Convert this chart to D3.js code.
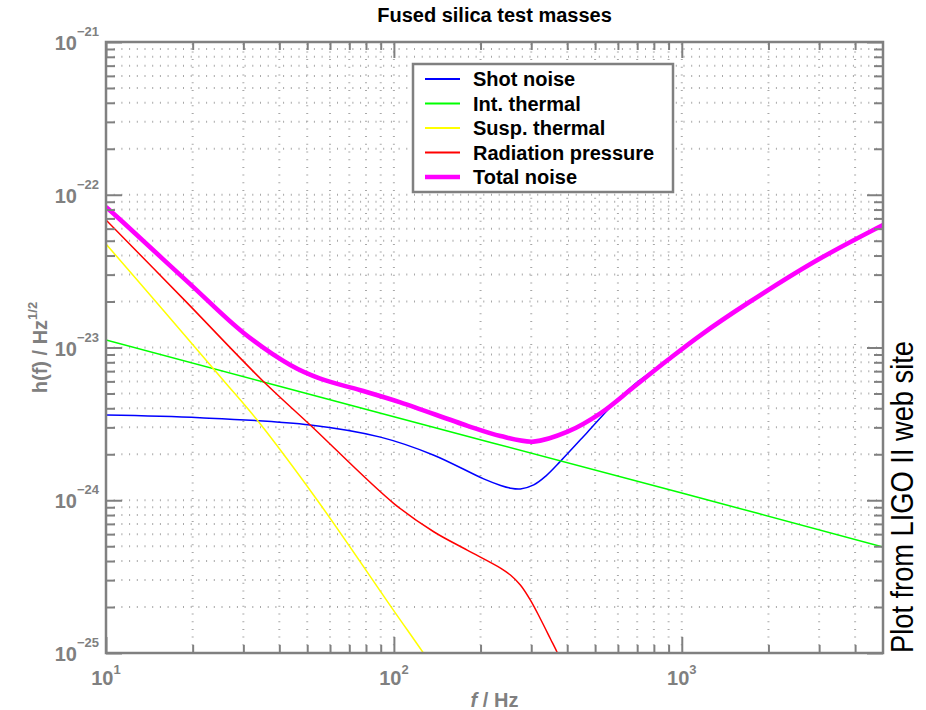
<!DOCTYPE html>
<html>
<head>
<meta charset="utf-8">
<script src="https://cdn.jsdelivr.net/npm/d3@7"></script>
<style>
  body { margin: 0; background: #fff; }
  svg text { font-family: "Liberation Sans", Arial, sans-serif; }
</style>
</head>
<body>
<div id="chart"></div>
<script>
// noise curves: frequency in Hz, strain in 1/sqrt(Hz)
const shotFreq = [10, 21.2, 51.2, 89.8, 137, 205, 235, 254, 275, 306, 337, 380, 471, 566, 681, 894, 1164, 1697, 2878, 5000];
const shotNoise = [3.61e-24, 3.47e-24, 3.11e-24, 2.59e-24, 1.98e-24, 1.38e-24, 1.25e-24, 1.20e-24, 1.185e-24, 1.26e-24, 1.44e-24, 1.81e-24, 2.80e-24, 4.08e-24, 5.68e-24, 8.2e-24, 1.2e-23, 1.95e-23, 3.62e-23, 6.33e-23];

const intFreq = [10, 100, 1000, 5000];
const intThermal = [1.12e-23, 3.52e-24, 1.115e-24, 4.94e-25];

const suspFreq = [10, 16.0, 25.5, 33.5, 54.2, 99.6, 126.6, 135];
const suspThermal = [4.76e-23, 1.71e-23, 6.13e-24, 3.35e-24, 1.0e-24, 1.91e-25, 1.0e-25, 8.3e-26];

const radFreq = [10, 18.7, 34.8, 51.2, 99.8, 137.5, 179.7, 234.6, 254, 275, 298, 323, 350, 370, 390];
const radPressure = [6.84e-23, 2.05e-23, 6.13e-24, 3.11e-24, 9.55e-25, 6.22e-25, 4.72e-25, 3.60e-25, 3.24e-25, 2.79e-25, 2.22e-25, 1.67e-25, 1.235e-25, 1.0e-25, 8.0e-26];

const totalFreq = [10, 11.46, 19.6, 30, 43.65, 55.5, 76.5, 105.3, 180.2, 234.6, 305.6, 401.3, 522.9, 680.8, 894, 1164, 1697, 2878, 5000];
const totalNoise = [8.31e-23, 6.6e-23, 2.6e-23, 1.25e-23, 7.68e-24, 6.25e-24, 5.25e-24, 4.37e-24, 3.07e-24, 2.63e-24, 2.42e-24, 2.81e-24, 3.72e-24, 5.51e-24, 8.28e-24, 1.207e-23, 1.955e-23, 3.63e-23, 6.34e-23];

const seriesNames = ["Shot noise", "Int. thermal", "Susp. thermal", "Radiation pressure", "Total noise"];
const seriesColors = ["#0000ff", "#00ff00", "#ffff00", "#ff0000", "#ff00ff"];

const xMajor = [10, 100, 1000];
const xExpLabels = ["1", "2", "3"];
const yMajor = [1e-21, 1e-22, 1e-23, 1e-24, 1e-25];
const yExpLabels = ["\u221221", "\u221222", "\u221223", "\u221224", "\u221225"];

const width = 926, height = 710;
const margin = {top: 42, right: 43, bottom: 57, left: 106};
const axisColor = "#808080";

const svg = d3.select("#chart").append("svg")
	.attr("width", width)
	.attr("height", height);

const x = d3.scaleLog().domain([10, 5000]).range([margin.left, width - margin.right]);
const y = d3.scaleLog().domain([1e-25, 1e-21]).range([height - margin.bottom, margin.top]);

// minor tick positions: 2..9 in every decade
let xMinor = [];
[10, 100, 1000].forEach(d => { for (let k = 2; k <= 9; k++) if (k * d < 5000) xMinor.push(k * d); });
let yMinor = [];
[1e-25, 1e-24, 1e-23, 1e-22].forEach(d => { for (let k = 2; k <= 9; k++) yMinor.push(k * d); });

// dotted grid
const grid = svg.append("g").attr("class", "grid")
	.attr("stroke", "#a8a8a8")
	.attr("stroke-width", 2)
	.attr("stroke-dasharray", "1,6.7");
grid.selectAll(".gx").data(xMajor.concat(xMinor).filter(d => d > 10)).join("line")
	.attr("x1", d => x(d)).attr("x2", d => x(d))
	.attr("y1", y.range()[0]).attr("y2", y.range()[1]);
grid.selectAll(".gy").data(yMajor.concat(yMinor).filter(d => d > 1.01e-25 && d < 0.99e-21)).join("line")
	.attr("x1", x.range()[0]).attr("x2", x.range()[1])
	.attr("y1", d => y(d)).attr("y2", d => y(d));

// curves
svg.append("clipPath").attr("id", "plot-clip")
	.append("rect")
	.attr("x", margin.left).attr("y", margin.top)
	.attr("width", x.range()[1] - x.range()[0])
	.attr("height", y.range()[0] - y.range()[1]);

const line = d3.line()
	.x(d => x(d[0]))
	.y(d => y(d[1]))
	.curve(d3.curveCatmullRom.alpha(0.5));

const series = [
	[shotFreq, shotNoise],
	[intFreq, intThermal],
	[suspFreq, suspThermal],
	[radFreq, radPressure],
	[totalFreq, totalNoise]
];

const curves = svg.append("g").attr("clip-path", "url(#plot-clip)");
series.forEach((s, i) => {
	curves.append("path")
		.datum(s[0].map((f, j) => [f, s[1][j]]))
		.attr("fill", "none")
		.attr("stroke", seriesColors[i])
		.attr("stroke-width", i === 4 ? 4.6 : 1.5)
		.attr("stroke-linejoin", "round")
		.attr("d", line);
});

// ticks on all four sides, pointing inwards
function ticks(axis, transform, values, size) {
	const g = svg.append("g").attr("transform", transform);
	g.call(axis.tickValues(values).tickSize(-size).tickFormat(""));
	g.select(".domain").remove();
	g.selectAll(".tick line").attr("stroke", axisColor).attr("stroke-width", 2);
}
const bottomY = y.range()[0], topY = y.range()[1];
const leftX = x.range()[0], rightX = x.range()[1];
ticks(d3.axisBottom(x), `translate(0,${bottomY})`, xMinor, 8);
ticks(d3.axisBottom(x), `translate(0,${bottomY})`, xMajor, 16);
ticks(d3.axisTop(x), `translate(0,${topY})`, xMinor, 8);
ticks(d3.axisTop(x), `translate(0,${topY})`, xMajor, 16);
ticks(d3.axisLeft(y), `translate(${leftX},0)`, yMinor, 9);
ticks(d3.axisLeft(y), `translate(${leftX},0)`, yMajor, 16);
ticks(d3.axisRight(y), `translate(${rightX},0)`, yMinor, 9);
ticks(d3.axisRight(y), `translate(${rightX},0)`, yMajor, 16);

svg.append("rect")
	.attr("x", leftX).attr("y", topY)
	.attr("width", rightX - leftX).attr("height", bottomY - topY)
	.attr("fill", "none")
	.attr("stroke", axisColor)
	.attr("stroke-width", 2.5);

// tick labels
const xl = svg.selectAll(".xlab").data(xMajor).join("text")
	.attr("class", "xlab")
	.attr("x", d => x(d)).attr("y", bottomY + 32)
	.attr("text-anchor", "middle")
	.attr("font-size", 20).attr("font-weight", "bold")
	.attr("fill", axisColor);
xl.append("tspan").text("10");
xl.append("tspan").attr("dy", -11).attr("font-size", 13).text((d, i) => xExpLabels[i]);

const yl = svg.selectAll(".ylab").data(yMajor).join("text")
	.attr("class", "ylab")
	.attr("x", leftX - 7).attr("y", d => y(d) + 8)
	.attr("text-anchor", "end")
	.attr("font-size", 20).attr("font-weight", "bold")
	.attr("fill", axisColor);
yl.append("tspan").text("10");
yl.append("tspan").attr("dy", -14).attr("font-size", 13).text((d, i) => yExpLabels[i]);

// axis titles
const xt = svg.append("text")
	.attr("x", (leftX + rightX) / 2).attr("y", 707)
	.attr("text-anchor", "middle")
	.attr("font-size", 20).attr("font-weight", "bold")
	.attr("fill", axisColor);
xt.append("tspan").attr("font-style", "italic").text("f");
xt.append("tspan").text(" / Hz");

const yt = svg.append("text")
	.attr("transform", `translate(47,${(topY + bottomY) / 2}) rotate(-90)`)
	.attr("text-anchor", "middle")
	.attr("font-size", 20).attr("font-weight", "bold")
	.attr("fill", axisColor);
yt.append("tspan").text("h(f) / Hz");
yt.append("tspan").attr("dy", -10).attr("font-size", 13).text("1/2");

svg.append("text")
	.attr("x", (leftX + rightX) / 2).attr("y", 22)
	.attr("text-anchor", "middle")
	.attr("font-size", 20).attr("font-weight", "bold")
	.attr("fill", "#000")
	.text("Fused silica test masses");

svg.append("text")
	.attr("transform", `translate(913,${bottomY}) rotate(-90)`)
	.attr("font-family", "DejaVu Sans")
	.attr("font-size", 32)
	.attr("textLength", 312)
	.attr("lengthAdjust", "spacingAndGlyphs")
	.attr("fill", "#000")
	.text("Plot from LIGO II web site");

// legend
const legend = svg.append("g").attr("transform", "translate(413,64)");
legend.append("rect")
	.attr("width", 260).attr("height", 128)
	.attr("fill", "#fff")
	.attr("stroke", axisColor)
	.attr("stroke-width", 2.5);
const rows = legend.selectAll(".row").data(seriesNames).join("g")
	.attr("transform", (d, i) => `translate(0,${15 + i * 24.5})`);
rows.append("line")
	.attr("x1", 12).attr("x2", 47)
	.attr("stroke", (d, i) => seriesColors[i])
	.attr("stroke-width", (d, i) => i === 4 ? 4.6 : 1.8);
rows.append("text")
	.attr("x", 60).attr("y", 7)
	.attr("font-size", 20).attr("font-weight", "bold")
	.attr("fill", "#000")
	.text(d => d);
</script>
</body>
</html>
